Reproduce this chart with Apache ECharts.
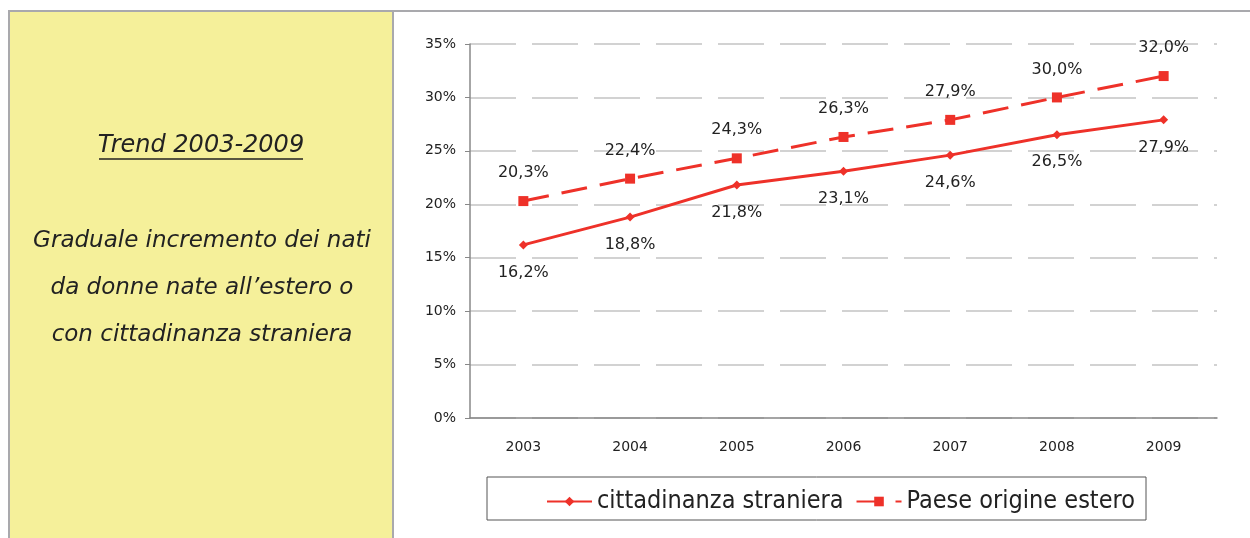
<!DOCTYPE html>
<html>
<head>
<meta charset="utf-8">
<script src="https://cdn.jsdelivr.net/npm/echarts@6/dist/echarts.min.js"></script>
<style>
  html, body { margin: 0; padding: 0; background: #fff; }
  #main { width: 1250px; height: 538px; }
</style>
</head>
<body>
<div id="main"></div>
<script>
// dati
const years = ['2003', '2004', '2005', '2006', '2007', '2008', '2009'];
const cittadinanza = [16.2, 18.8, 21.8, 23.1, 24.6, 26.5, 27.9];
const origineEstero = [20.3, 22.4, 24.3, 26.3, 27.9, 30.0, 32.0];
const seriesNames = ['cittadinanza straniera', 'Paese origine estero'];
const panelTitle = 'Trend 2003-2009';
const panelLines = [
  'Graduale incremento dei nati',
  'da donne nate all\u2019estero o',
  'con cittadinanza straniera'
];

const red = '#ee3129';
const fmt = v => v.toFixed(1).replace('.', ',') + '%';

let chart = echarts.init(document.getElementById('main'));

// pannello giallo a sinistra
let graphics = [
  {
    type: 'rect', z: -1,
    shape: { x: 9, y: 11, width: 384, height: 540 },
    style: { fill: '#f5f09a', stroke: '#a9a9ad', lineWidth: 2 }
  },
  {
    type: 'line', z: -1,
    shape: { x1: 393, y1: 11, x2: 1250, y2: 11 },
    style: { stroke: '#a9a9ad', lineWidth: 2 }
  },
  {
    type: 'text',
    style: {
      text: panelTitle, x: 201, y: 146,
      align: 'center', verticalAlign: 'middle',
      font: 'italic 24px "DejaVu Sans"', fill: '#222'
    }
  },
  {
    type: 'line',
    shape: { x1: 99, y1: 159, x2: 303, y2: 159 },
    style: { stroke: '#222', lineWidth: 1.5 }
  }
];
panelLines.forEach((t, i) => {
  graphics.push({
    type: 'text',
    style: {
      text: t, x: 202, y: 241 + i * 47,
      align: 'center', verticalAlign: 'middle',
      font: 'italic 23px "DejaVu Sans"', fill: '#222'
    }
  });
});
// cornice della legenda
graphics.push({
  type: 'rect',
  shape: { x: 487, y: 477, width: 659, height: 43 },
  style: { fill: 'none', stroke: '#555', lineWidth: 1 }
});

chart.setOption({
  animation: false,
  backgroundColor: '#fff',
  graphic: graphics,
  grid: { left: 470, right: 33, top: 44, bottom: 120 },
  legend: {
    left: 541, top: 484,
    itemWidth: 45, itemHeight: 12, itemGap: 12,
    textStyle: { fontFamily: 'DejaVu Sans Condensed', fontSize: 25, color: '#222' },
    data: seriesNames
  },
  xAxis: {
    type: 'category',
    data: years,
    boundaryGap: true,
    axisLine: { lineStyle: { color: '#888', width: 1.5 } },
    axisTick: { length: 6, lineStyle: { color: '#888' } },
    axisLabel: { margin: 22, fontFamily: 'DejaVu Sans', fontSize: 14, color: '#222' }
  },
  yAxis: {
    type: 'value',
    min: 0, max: 35, interval: 5,
    axisLine: { show: true, lineStyle: { color: '#888', width: 1.5 } },
    axisTick: { show: true, length: 5, lineStyle: { color: '#888' } },
    axisLabel: { margin: 14, formatter: v => v + '%', fontFamily: 'DejaVu Sans', fontSize: 14, color: '#222' },
    splitLine: { lineStyle: { color: '#c4c4c4', width: 1.5, type: [46, 16] } }
  },
  series: [
    {
      name: seriesNames[0],
      type: 'line',
      data: cittadinanza,
      symbol: 'diamond', symbolSize: 9,
      itemStyle: { color: red },
      lineStyle: { color: red, width: 3 },
      label: {
        show: true, position: 'bottom', distance: 15,
        formatter: p => fmt(p.value),
        fontFamily: 'DejaVu Sans', fontSize: 16, color: '#222'
      }
    },
    {
      name: seriesNames[1],
      type: 'line',
      data: origineEstero,
      symbol: 'rect', symbolSize: 10,
      itemStyle: { color: red },
      lineStyle: { color: red, width: 3, type: [26, 13] },
      label: {
        show: true, position: 'top', distance: 15,
        formatter: p => fmt(p.value),
        fontFamily: 'DejaVu Sans', fontSize: 16, color: '#222'
      }
    }
  ]
});
</script>
</body>
</html>
